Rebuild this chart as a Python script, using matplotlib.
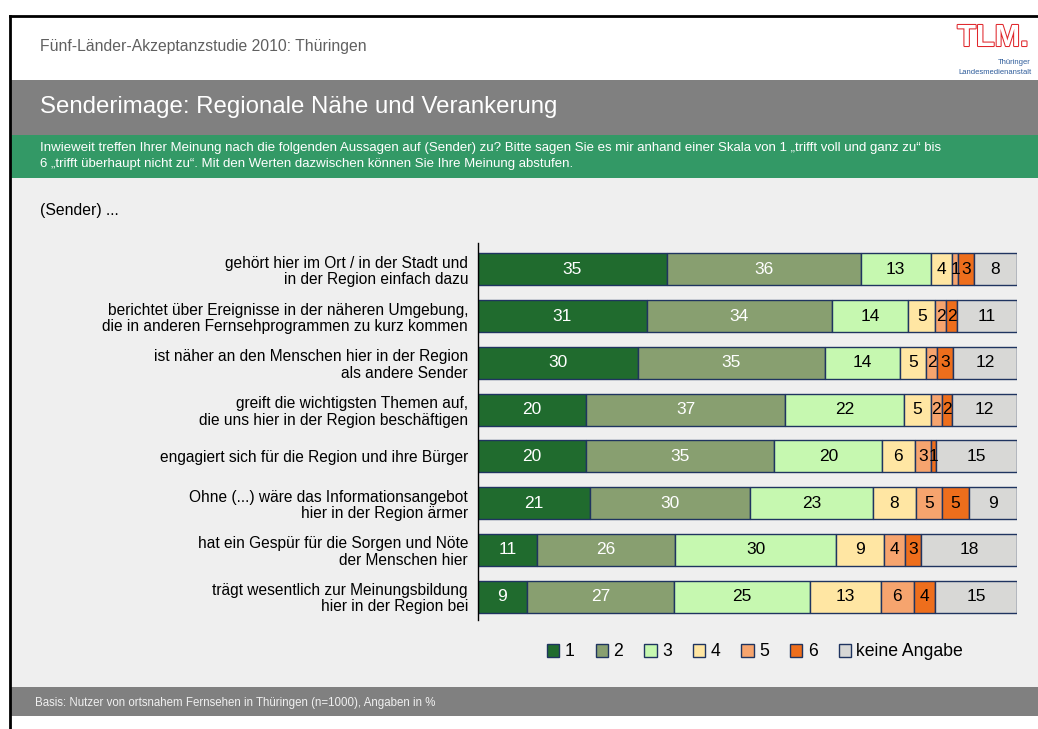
import matplotlib
matplotlib.use("Agg")
import matplotlib.pyplot as plt
from matplotlib.patches import Rectangle, Patch
from matplotlib.lines import Line2D
import matplotlib.patheffects as pe
import numpy as np

plt.rcParams['font.family'] = ['Liberation Sans', 'DejaVu Sans']

categories = [
    "gehört hier im Ort / in der Stadt und\nin der Region einfach dazu",
    "berichtet über Ereignisse in der näheren Umgebung,\ndie in anderen Fernsehprogrammen zu kurz kommen",
    "ist näher an den Menschen hier in der Region\nals andere Sender",
    "greift die wichtigsten Themen auf,\ndie uns hier in der Region beschäftigen",
    "engagiert sich für die Region und ihre Bürger",
    "Ohne (...) wäre das Informationsangebot\nhier in der Region ärmer",
    "hat ein Gespür für die Sorgen und Nöte\nder Menschen hier",
    "trägt wesentlich zur Meinungsbildung\nhier in der Region bei",
]
series_names = ["1", "2", "3", "4", "5", "6", "keine Angabe"]
s1 = [35, 31, 30, 20, 20, 21, 11, 9]
s2 = [36, 34, 35, 37, 35, 30, 26, 27]
s3 = [13, 14, 14, 22, 20, 23, 30, 25]
s4 = [4, 5, 5, 5, 6, 8, 9, 13]
s5 = [1, 2, 2, 2, 3, 5, 4, 6]
s6 = [3, 2, 3, 2, 1, 5, 3, 4]
s_ka = [8, 11, 12, 12, 15, 9, 18, 15]
series = [s1, s2, s3, s4, s5, s6, s_ka]

colors = ["#206B2E", "#889F70", "#C6F8B0", "#FFE6A3", "#F6A46E", "#EE6E1C", "#D8D8D6"]
text_colors = ["white", "white", "black", "black", "black", "black", "black"]
edge = "#1F3460"

W, H = 1038, 729
fig = plt.figure(figsize=(W / 100, H / 100), dpi=100)
fig.patch.set_facecolor("white")


def fx(x):
    return x / W


def fy(y):
    return 1 - y / H


def band(y0, y1, color, x0=11, x1=W):
    fig.add_artist(Rectangle((fx(x0), fy(y1)), fx(x1) - fx(x0), fy(y0) - fy(y1),
                             transform=fig.transFigure, facecolor=color, edgecolor="none", zorder=0))


# backgrounds
band(17, 80, "white")
band(80, 135, "#808080")
band(135, 178, "#339966")
band(178, 687, "#EFEFEF")
band(687, 716, "#808080")

# frame lines
fig.add_artist(Line2D([fx(10), fx(10)], [fy(16), fy(729)], transform=fig.transFigure,
                      color="black", lw=2, zorder=5))
fig.add_artist(Line2D([fx(10), fx(1038)], [fy(16), fy(16)], transform=fig.transFigure,
                      color="black", lw=2, zorder=5))

# header texts
fig.text(fx(40), fy(46), "Fünf-Länder-Akzeptanzstudie 2010: Thüringen", fontsize=11.3,
         color="#606060", va="center", ha="left")
fig.text(fx(40), fy(107), "Senderimage: Regionale Nähe und Verankerung", fontsize=17.3,
         color="white", va="center", ha="left")
fig.text(fx(40), fy(148), "Inwieweit treffen Ihrer Meinung nach die folgenden Aussagen auf (Sender) zu? "
         "Bitte sagen Sie es mir anhand einer Skala von 1 \u201etrifft voll und ganz zu\u201c bis",
         fontsize=9.55, color="white", va="center", ha="left")
fig.text(fx(40), fy(164), "6 \u201etrifft überhaupt nicht zu\u201c. Mit den Werten dazwischen können Sie Ihre Meinung abstufen.",
         fontsize=9.55, color="white", va="center", ha="left")
fig.text(fx(40), fy(211), "(Sender) ...", fontsize=11.3, color="black", va="center", ha="left")
fig.text(fx(35), fy(703), "Basis: Nutzer von ortsnahem Fernsehen in Thüringen (n=1000), Angaben in %",
         fontsize=8.3, color="#F0F0F0", va="center", ha="left")

# logo
fig.text(fx(993), fy(38), "TLM.", fontsize=22, color="white", ha="center", va="center",
         fontweight="bold", path_effects=[pe.withStroke(linewidth=1.5, foreground="#E0262B")])
fig.text(fx(1031), fy(63), "Thüringer", fontsize=5.5, color="#2E5C9A", ha="right", va="center")
fig.text(fx(1032), fy(72), "Landesmedienanstalt", fontsize=5.5, color="#2E5C9A", ha="right", va="center")

# chart
ax = fig.add_axes([fx(478), fy(620), fx(1017) - fx(478), fy(243) - fy(620)])
ax.set_facecolor("none")
data = np.array(series, dtype=float)  # shape (7, 8)
totals = data.sum(axis=0)
pct = data / totals * 100
y = np.arange(len(categories))
left = np.zeros(len(categories))
for i, name in enumerate(series_names):
    bars = ax.barh(y, pct[i], left=left, height=0.685, color=colors[i], edgecolor=edge,
                   linewidth=1.0, label=name)
    for j, b in enumerate(bars):
        ax.text(left[j] + pct[i][j] / 2, y[j], str(series[i][j]), ha="center", va="center",
                fontsize=12.5, color=text_colors[i])
    left += pct[i]

ax.set_xlim(0, 100)
ax.set_ylim(7.503, -0.567)
ax.set_yticks(y)
ax.set_yticklabels(categories, fontsize=11.2, color="black", linespacing=1.12)
ax.tick_params(axis="y", length=0, pad=7.2)
ax.set_xticks([])
for s in ["top", "right", "bottom"]:
    ax.spines[s].set_visible(False)
ax.spines["left"].set_color("black")
ax.spines["left"].set_linewidth(1)

handles = [Patch(facecolor=colors[i], edgecolor=edge, linewidth=1) for i in range(7)]
fig.legend(handles, series_names, loc="center", bbox_to_anchor=(fx(755), fy(652)), ncol=7,
           frameon=False, fontsize=12.7, handlelength=0.7, handleheight=0.7,
           handletextpad=0.3, columnspacing=1.2)

fig.savefig("out.png", dpi=100, facecolor="white")
